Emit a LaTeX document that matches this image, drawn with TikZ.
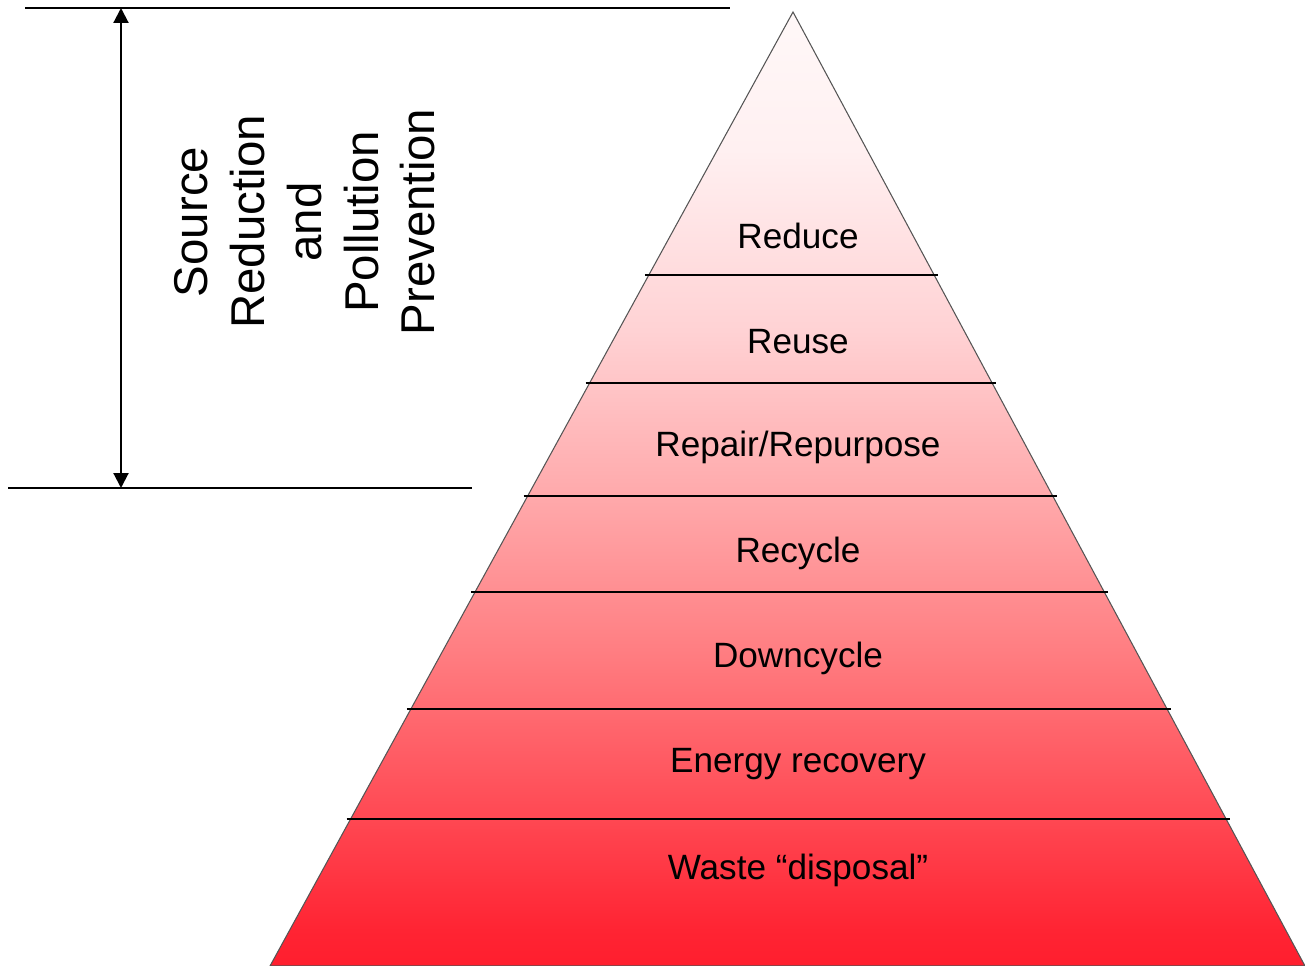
\documentclass[tikz,border=0pt]{standalone}
\usepackage{fontspec}
\setmainfont{Liberation Sans}
\usetikzlibrary{calc,arrows.meta}
\definecolor{pyrA}{HTML}{FFF8F8}
\definecolor{pyrB}{HTML}{FFF0F1}
\definecolor{pyrC}{HTML}{FFD2D4}
\definecolor{pyrD}{HTML}{FFA8AA}
\definecolor{pyrE}{HTML}{FF7E82}
\definecolor{pyrF}{HTML}{FF2433}
\definecolor{pyrG}{HTML}{FF1E2E}
\definecolor{edge}{HTML}{555555}
\pgfdeclareverticalshading{pyrshade}{100bp}{color(0bp)=(pyrG); color(25bp)=(pyrG);
  color(26.9bp)=(pyrF); color(41.6bp)=(pyrE); color(49.4bp)=(pyrD);
  color(58.3bp)=(pyrC); color(67.8bp)=(pyrB); color(75bp)=(pyrA); color(100bp)=(pyrA)}
\tikzset{
  rule/.style={draw=black, line width=1.2pt},
  span/.style={draw=black, line width=1.2pt, {Triangle[length=8.5pt,width=8.5pt]}-{Triangle[length=8.5pt,width=8.5pt]}},
  tier/.style={draw=black, line width=0.9pt},
  pyr/.style={draw=edge, line width=0.6pt, shading=pyrshade},
  lab/.style={text=black, font=\fontsize{20}{24}\selectfont},
  biglab/.style={text=black, font=\fontsize{27}{32.3}\selectfont, align=center, rotate=90},
}

\begin{document}
\begin{tikzpicture}[x=0.02cm,y=-0.02cm]
  \useasboundingbox (0,0) rectangle (1305,966);
  \coordinate (apex) at (793,12);
  \coordinate (bl) at (270,966);
  \coordinate (br) at (1305,966);

  \shadedraw[pyr] (apex) -- (bl) -- (br) -- cycle;

  % tier dividers
  \foreach \y in {275,383,496,592,709,819}{
    \pgfmathsetmacro{\t}{(\y-12)/954}
    \draw[tier] ($(apex)!\t!(bl)+(-4,0)$) -- ($(apex)!\t!(br)+(4,0)$);
  }

  \foreach \txt/\y/\nm in {Reduce/236/reduce, Reuse/342/reuse, {Repair/Repurpose}/447/repair,
      Recycle/553/recycle, Downcycle/658/downcycle, Energy recovery/764/energy,
      Waste “disposal”/870/waste}
    \node[lab] (\nm) at (798,\y) {\txt};

  % span of source reduction
  \coordinate (topL) at (25,8);
  \coordinate (topR) at (730,8);
  \coordinate (botL) at (8,488);
  \coordinate (botR) at (472,488);
  \draw[rule] (topL) -- (topR);
  \draw[rule] (botL) -- (botR);
  \coordinate (arrT) at (121,8);
  \coordinate (arrB) at (121,488);
  \draw[span] (arrT) -- (arrB);

  \node[biglab] (srcpp) at (305,222) {Source\\Reduction\\and\\Pollution\\Prevention};
\end{tikzpicture}
\end{document}
